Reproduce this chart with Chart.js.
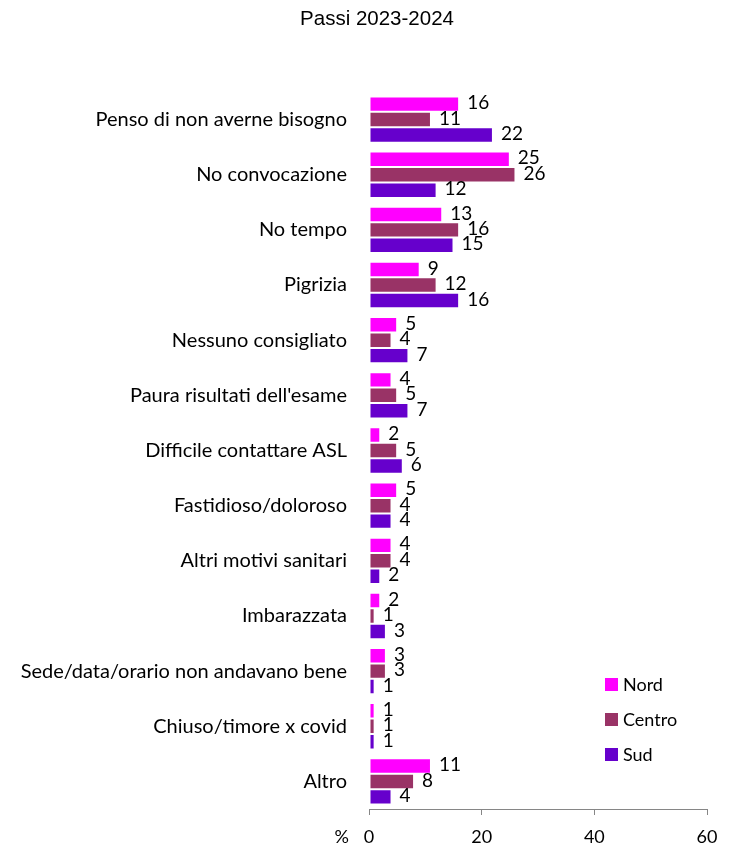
<!DOCTYPE html>
<html>
<head>
<meta charset="utf-8">
<script src="https://cdn.jsdelivr.net/npm/chart.js@4/dist/chart.umd.min.js"></script>
<style>
  html, body { margin: 0; padding: 0; background: #fff; }
  #wrap { width: 735px; height: 845px; }
</style>
</head>
<body>
<div id="wrap"><canvas id="chart"></canvas></div>
<script>
// Motivi della mancata adesione, per macroarea
const categories = [
    'Penso di non averne bisogno',
    'No convocazione',
    'No tempo',
    'Pigrizia',
    'Nessuno consigliato',
    "Paura risultati dell'esame",
    'Difficile contattare ASL',
    'Fastidioso/doloroso',
    'Altri motivi sanitari',
    'Imbarazzata',
    'Sede/data/orario non andavano bene',
    'Chiuso/timore x covid',
    'Altro'
];
const nord   = [16, 25, 13, 9, 5, 4, 2, 5, 4, 2, 3, 1, 11];
const centro = [11, 26, 16, 12, 4, 5, 5, 4, 4, 1, 3, 1, 8];
const sud    = [22, 12, 15, 16, 7, 7, 6, 4, 2, 3, 1, 1, 4];
const xTicks = [0, 20, 40, 60];

const LABEL_FONT = 'Lato, "Open Sans", sans-serif';
const TITLE = 'Passi 2023-2024';

// value labels at the end of each bar
const valueLabels = {
    id: 'valueLabels',
    afterDatasetsDraw(chart) {
        const ctx = chart.ctx;
        ctx.save();
        ctx.font = '19px ' + LABEL_FONT;
        ctx.fillStyle = '#000';
        ctx.textBaseline = 'middle';
        ctx.textAlign = 'left';
        chart.data.datasets.forEach((ds, i) => {
            chart.getDatasetMeta(i).data.forEach((bar, j) => {
                ctx.fillText(String(ds.data[j]), bar.x + 8, bar.y - 1);
            });
        });
        ctx.restore();
    }
};

// title, legend in the lower right of the plot, and the "%" axis marker
const decorations = {
    id: 'decorations',
    afterDraw(chart) {
        const ctx = chart.ctx;
        const area = chart.chartArea;
        ctx.save();
        ctx.fillStyle = '#000';
        ctx.textBaseline = 'middle';
        ctx.textAlign = 'center';
        ctx.font = '20.5px "Liberation Sans", Arial, sans-serif';
        ctx.fillText(TITLE, 377, 19);

        ctx.font = '18px ' + LABEL_FONT;
        ctx.textAlign = 'left';
        chart.data.datasets.forEach((ds, i) => {
            const y = 684 + i * 35;
            const x = 605;
            ctx.fillStyle = ds.backgroundColor;
            ctx.fillRect(x, y - 6, 13, 13);
            ctx.fillStyle = '#000';
            ctx.fillText(ds.label, x + 18, y + 1);
        });
        ctx.textAlign = 'right';
        ctx.fillText('%', area.left - 20, 837);
        ctx.restore();
    }
};

const barStyle = { borderColor: 'rgba(255,255,255,0.55)', borderWidth: 1, borderSkipped: false };

new Chart(document.getElementById('chart'), {
    type: 'bar',
    data: {
        labels: categories,
        datasets: [
            { label: 'Nord',   data: nord,   backgroundColor: '#ff00ff', ...barStyle },
            { label: 'Centro', data: centro, backgroundColor: '#993366', ...barStyle },
            { label: 'Sud',    data: sud,    backgroundColor: '#6600cc', ...barStyle }
        ]
    },
    options: {
        indexAxis: 'y',
        responsive: true,
        maintainAspectRatio: false,
        animation: false,
        layout: { padding: { left: 0, right: 28, top: 92, bottom: 0 } },
        datasets: { bar: { categoryPercentage: 0.84, barPercentage: 1.0 } },
        plugins: {
            legend: { display: false },
            tooltip: { enabled: false },
            title: { display: false }
        },
        scales: {
            x: {
                min: 0,
                max: 60,
                afterBuildTicks: axis => { axis.ticks = xTicks.map(v => ({ value: v })); },
                grid: { drawOnChartArea: false, drawTicks: true, tickLength: 6, color: '#868686' },
                border: { display: true, color: '#868686' },
                ticks: {
                    color: '#000',
                    padding: 11,
                    font: { family: LABEL_FONT, size: 18 }
                },
                afterFit: axis => { axis.height = 36; }
            },
            y: {
                grid: { display: false },
                border: { display: false },
                ticks: {
                    color: '#000',
                    padding: 14,
                    font: { family: LABEL_FONT, size: 20 }
                },
                afterFit: axis => { axis.width = 369; }
            }
        }
    },
    plugins: [valueLabels, decorations]
});
</script>
</body>
</html>
